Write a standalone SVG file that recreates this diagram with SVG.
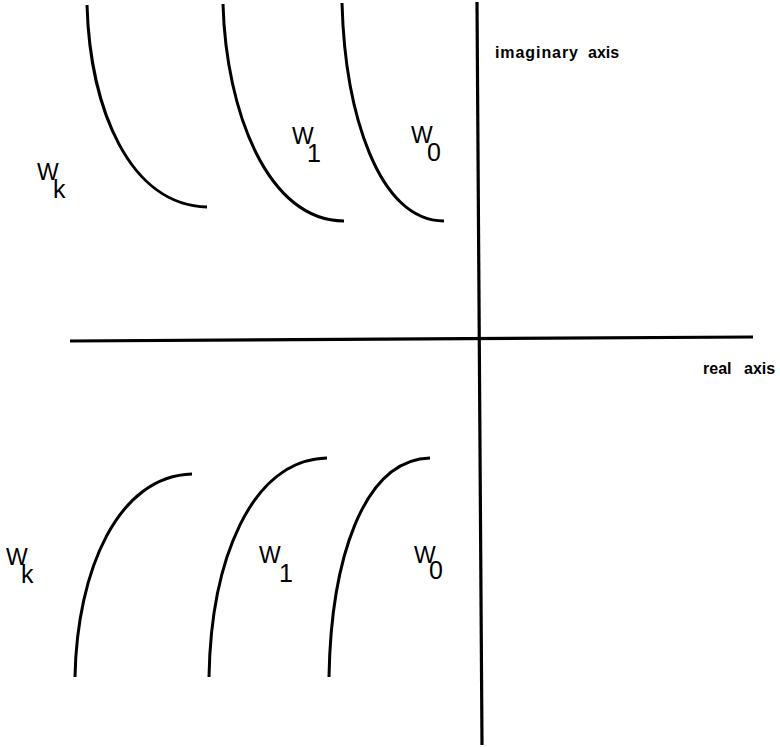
<svg xmlns="http://www.w3.org/2000/svg" width="780" height="747" viewBox="0 0 780 747">
<style>
.ax{stroke:#000;stroke-width:3.2;fill:none}
.cv{stroke:#000;stroke-width:3;fill:none;stroke-linecap:butt}
.lb{font-family:"Liberation Sans",Arial,sans-serif;font-size:23px;fill:#000}
.sb{font-size:25px}
.al{font-family:"Liberation Sans",Arial,sans-serif;font-size:16px;font-weight:bold;fill:#000}
</style>
<rect width="780" height="747" fill="#fff"/>
<g id="connectors">
<path class="ax" d="M70,341 L753,337"/>
<path class="ax" d="M477,2 L482,745"/>
</g>
<g id="upper-curves">
<path id="c-up-k" class="cv" d="M87,5 C90,110 130,205 207,207"/>
<path id="c-up-1" class="cv" d="M223,4 C226,112 268,221 344,221"/>
<path id="c-up-0" class="cv" d="M342,3 C345,112 378,221 444,221"/>
</g>
<g id="lower-curves">
<path id="c-lo-k" class="cv" d="M75,677 C77,570 118,476 192,474"/>
<path id="c-lo-1" class="cv" d="M209,677 C211,562 250,460 327,458"/>
<path id="c-lo-0" class="cv" d="M329,677 C331,562 362,460 430,458"/>
</g>
<g id="labels">
<text id="lbl-up-k" class="lb" x="37" y="180">W<tspan class="sb" x="53" y="198">k</tspan></text>
<text id="lbl-up-1" class="lb" x="292" y="144">W<tspan class="sb" x="307" y="162">1</tspan></text>
<text id="lbl-up-0" class="lb" x="411" y="143">W<tspan class="sb" x="427" y="161">0</tspan></text>
<text id="lbl-lo-k" class="lb" x="6" y="565">W<tspan class="sb" x="21" y="583">k</tspan></text>
<text id="lbl-lo-1" class="lb" x="259" y="563">W<tspan class="sb" x="279" y="582">1</tspan></text>
<text id="lbl-lo-0" class="lb" x="414" y="563">W<tspan class="sb" x="429" y="579">0</tspan></text>
<text id="lbl-imag" class="al" y="58"><tspan x="495" textLength="83" lengthAdjust="spacing">imaginary</tspan><tspan x="588">axis</tspan></text>
<text id="lbl-real" class="al" y="374"><tspan x="703">real</tspan><tspan x="744">axis</tspan></text>
</g>
</svg>
